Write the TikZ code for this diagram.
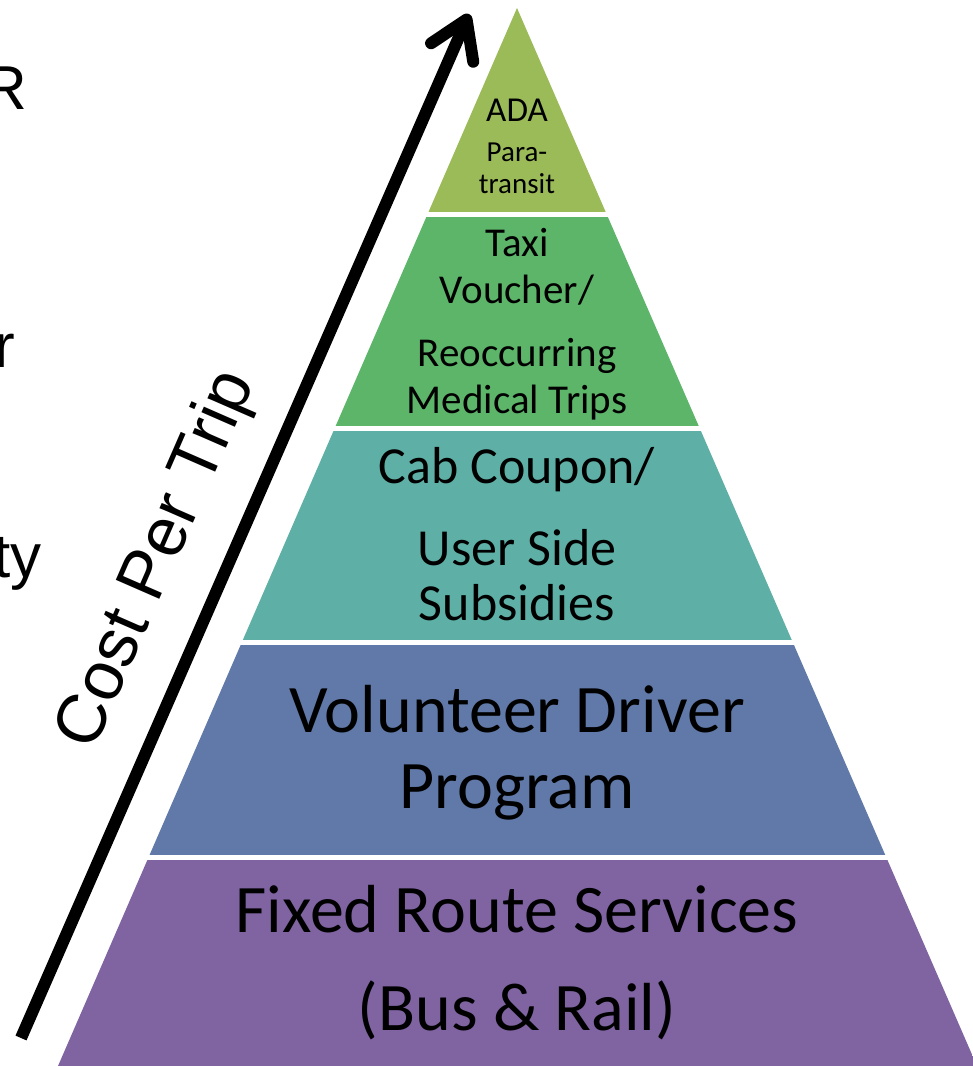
\documentclass[tikz,border=0pt]{standalone}
\usepackage{fontspec}
\setmainfont{Carlito}
\newfontfamily\arialf{Liberation Sans}
\usetikzlibrary{arrows.meta}
\definecolor{cA}{RGB}{155,187,89}
\definecolor{cB}{RGB}{93,181,106}
\definecolor{cC}{RGB}{94,176,167}
\definecolor{cD}{RGB}{96,121,168}
\definecolor{cE}{RGB}{128,100,162}
\begin{document}
\begin{tikzpicture}[x=1pt,y=-1pt,
  lbl/.style={inner sep=0pt, anchor=base, text=black},
  sA/.style={lbl, font=\fontsize{35}{40}\selectfont},
  sAs/.style={lbl, font=\fontsize{29}{34}\selectfont},
  sB/.style={lbl, font=\fontsize{41}{48}\selectfont},
  sC/.style={lbl, font=\fontsize{52}{60}\selectfont},
  sD/.style={lbl, font=\fontsize{68}{78}\selectfont},
  side/.style={inner sep=0pt, anchor=base east, font=\arialf\fontsize{62}{70}\selectfont},
  costarrow/.style={line width=12pt, -{Straight Barb[length=36pt,width=46pt,line cap=round,line join=round]}}]
\useasboundingbox (0,0) rectangle (973,1066);
\fill[white] (0,0) rectangle (973,1066);
% pyramid bands
\begin{scope}
  \clip (517,8) -- (58,1066) -- (977,1066) -- cycle;
  \fill[cA] (0,0) rectangle (973,212);
  \fill[cB] (0,217) rectangle (973,426);
  \fill[cC] (0,431) rectangle (973,640);
  \fill[cD] (0,645) rectangle (973,855);
  \fill[cE] (0,860) rectangle (973,1066);
\end{scope}
% texts
\node[sA]  (a1) at (517,121) {ADA};
\node[sAs] (a2) at (517,161) {Para-};
\node[sAs] (a3) at (517,193) {transit};
\node[sB] (b1) at (517,256) {Taxi};
\node[sB] (b2) at (517,303) {Voucher/};
\node[sB] (b3) at (517,366) {Reoccurring};
\node[sB] (b4) at (517,413) {Medical Trips};
\node[sC] (c1) at (517,483) {Cab Coupon/};
\node[sC] (c2) at (517,565) {User Side};
\node[sC] (c3) at (517,620) {Subsidies};
\node[sD] (d1) at (517,732) {Volunteer Driver};
\node[sD] (d2) at (517,808) {Program};
\node[sD] (e1) at (517,932) {Fixed Route Services};
\node[sD] (e2) at (517,1030) {(Bus \& Rail)};
% arrow
\coordinate (arrS) at (21,1038);
\coordinate (arrE) at (469,14);
\draw[costarrow] (arrS) -- (arrE);
\node[font=\arialf\fontsize{69}{80}\selectfont, rotate=66.4, inner sep=0pt] (cost) at (158,560) {Cost Per Trip};
% cut-off text at left edge
\node[side] (s1) at (27,109) {R};
\node[side] (s2) at (15,367) {r};
\node[side] (s3) at (42,577) {ty};
\end{tikzpicture}
\end{document}
